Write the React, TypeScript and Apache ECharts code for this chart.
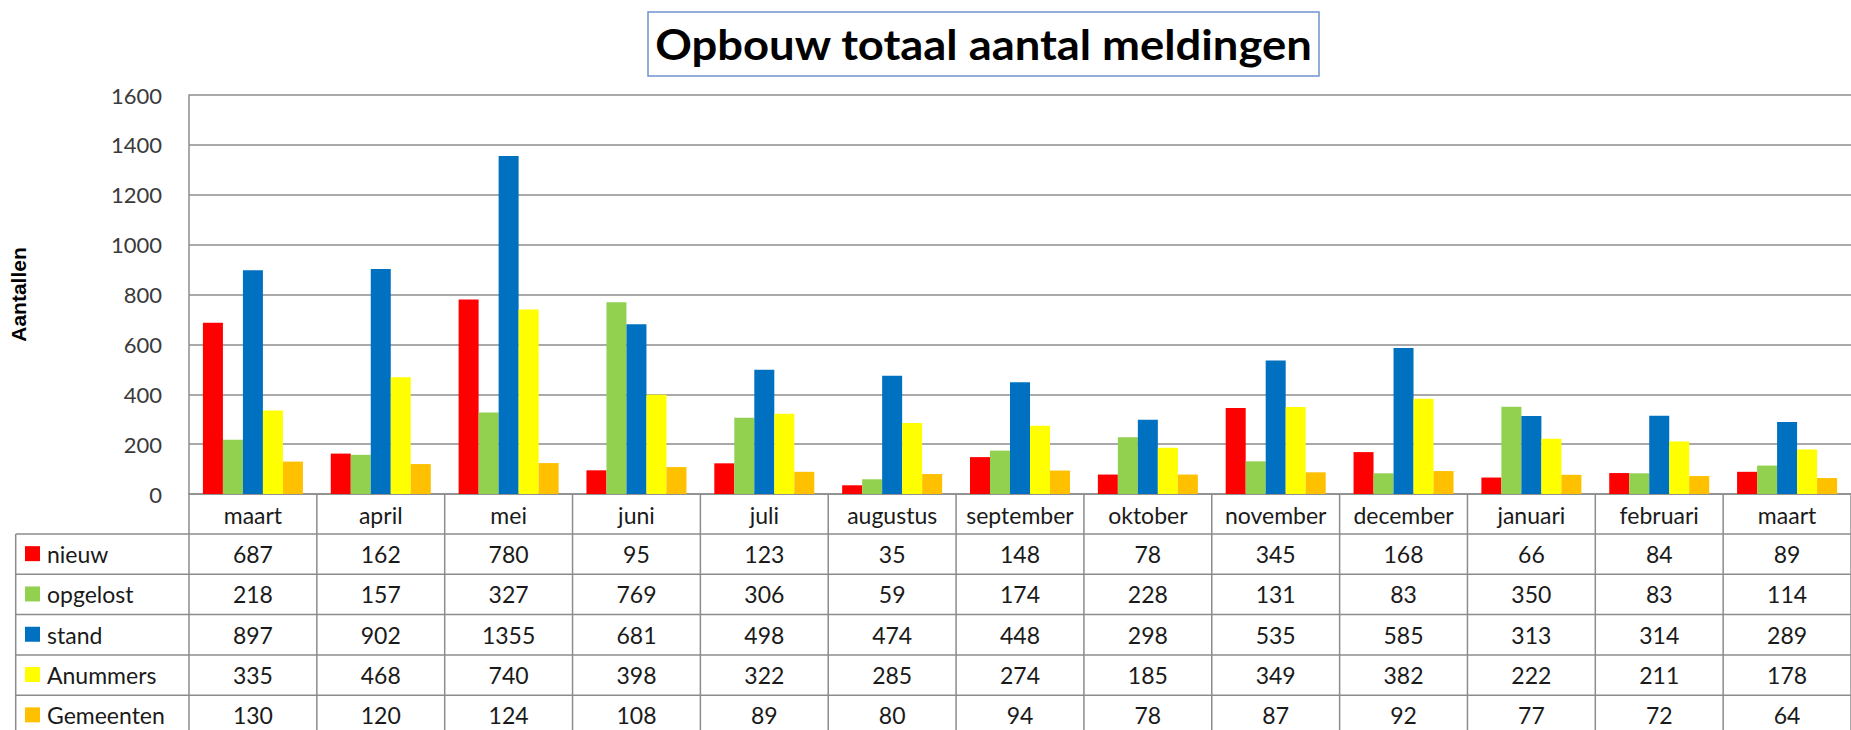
import React, { useEffect, useRef } from "react";
import * as echarts from "echarts";

const months = ["maart", "april", "mei", "juni", "juli", "augustus", "september", "oktober", "november", "december", "januari", "februari", "maart"];
const seriesNames = ["nieuw", "opgelost", "stand", "Anummers", "Gemeenten"];
const nieuw = [687, 162, 780, 95, 123, 35, 148, 78, 345, 168, 66, 84, 89];
const opgelost = [218, 157, 327, 769, 306, 59, 174, 228, 131, 83, 350, 83, 114];
const stand = [897, 902, 1355, 681, 498, 474, 448, 298, 535, 585, 313, 314, 289];
const anummers = [335, 468, 740, 398, 322, 285, 274, 185, 349, 382, 222, 211, 178];
const gemeenten = [130, 120, 124, 108, 89, 80, 94, 78, 87, 92, 77, 72, 64];
const seriesColors = ["#FF0000", "#92D050", "#0070C0", "#FFFF00", "#FFC000"];
const yMin = 0;
const yMax = 1600;
const yInterval = 200;
const titleText = "Opbouw totaal aantal meldingen";
const yAxisTitle = "Aantallen";

const allSeries = [nieuw, opgelost, stand, anummers, gemeenten];

const FONT = "Lato, 'Liberation Sans', sans-serif";
const LINE = "#8c8c8c";

export default function App() {
  const ref = useRef<HTMLDivElement>(null);

  useEffect(() => {
    document.body.style.margin = "0";
    if (!ref.current) return;
    const chart = echarts.init(ref.current, null, { renderer: "svg" });
    const gridLeft = 182;
    const gridTop = 95;
    const gridHeight = 399;
    const gridWidth = 1678;

    chart.setOption({
      animation: false,
      backgroundColor: "#ffffff",
      grid: { left: gridLeft, top: gridTop, height: gridHeight, width: gridWidth, containLabel: false },
      xAxis: {
        type: "category",
        data: months,
        axisLine: { show: true, lineStyle: { color: LINE, width: 1.5 } },
        axisTick: { show: false },
        axisLabel: { color: "#1a1a1a", fontFamily: FONT, fontSize: 23, margin: 9, interval: 0 },
      },
      yAxis: {
        type: "value",
        min: yMin,
        max: yMax,
        interval: yInterval,
        name: yAxisTitle,
        nameLocation: "middle",
        nameRotate: 90,
        nameGap: 160,
        nameTextStyle: { color: "#000", fontFamily: "'Liberation Sans', Arial, sans-serif", fontWeight: "bold", fontSize: 21 },
        axisLine: { show: true, lineStyle: { color: LINE, width: 1.5 } },
        axisTick: { show: false },
        axisLabel: { color: "#3a3a3a", fontFamily: FONT, fontSize: 22, margin: 27, formatter: (v: number) => String(v) },
        splitLine: { show: true, lineStyle: { color: LINE, width: 1.5 } },
      },
      series: allSeries.map((d, i) => ({
        name: seriesNames[i],
        type: "bar",
        data: d,
        barWidth: 20,
        barGap: "0%",
        itemStyle: { color: seriesColors[i] },
      })),
    });

    // Build the data table using the axis' own positions
    const centers = months.map((_, i) => chart.convertToPixel({ xAxisIndex: 0 }, i) as number);
    const colW = centers.length > 1 ? centers[1] - centers[0] : 129;
    const axisY = gridTop + gridHeight;
    const headerBottom = axisY + 40;
    const rowH = 40.3;
    const tableLeft = 15.7;
    const tableRight = centers[centers.length - 1] + colW / 2;
    const tableBottom = headerBottom + rowH * seriesNames.length;

    const elements: any[] = [];
    // title
    elements.push({
      type: "rect",
      shape: { x: 648, y: 12, width: 671, height: 64 },
      style: { fill: "#ffffff", stroke: "#7093cf", lineWidth: 1.5 },
      z: 10,
    });
    elements.push({
      type: "text",
      x: 983.5,
      y: 44,
      scaleX: 1.08,
      style: { text: titleText, fill: "#000", font: `bold 42px ${FONT}`, textAlign: "center", textVerticalAlign: "middle" },
      z: 11,
    });
    // horizontal rows
    for (let r = 0; r <= seriesNames.length; r++) {
      const y = headerBottom + r * rowH;
      elements.push({
        type: "line",
        shape: { x1: tableLeft, y1: y, x2: tableRight, y2: y },
        style: { stroke: LINE, lineWidth: 1.5 },
      });
    }
    // left border of legend column
    elements.push({
      type: "line",
      shape: { x1: tableLeft, y1: headerBottom, x2: tableLeft, y2: tableBottom },
      style: { stroke: LINE, lineWidth: 1.5 },
    });
    // column dividers
    for (let k = 0; k <= months.length; k++) {
      const x = centers[0] - colW / 2 + k * colW;
      elements.push({
        type: "line",
        shape: { x1: x, y1: axisY, x2: x, y2: tableBottom },
        style: { stroke: LINE, lineWidth: 1.5 },
      });
    }
    // legend + values
    seriesNames.forEach((name, r) => {
      const cy = headerBottom + r * rowH + rowH / 2;
      elements.push({
        type: "rect",
        shape: { x: 25, y: cy - 8, width: 15, height: 15 },
        style: { fill: seriesColors[r] },
      });
      elements.push({
        type: "text",
        x: 47,
        y: cy,
        style: { text: name, fill: "#1a1a1a", font: `23px ${FONT}`, textAlign: "left", textVerticalAlign: "middle" },
      });
      allSeries[r].forEach((v, i) => {
        elements.push({
          type: "text",
          x: centers[i],
          y: cy,
          style: { text: String(v), fill: "#1a1a1a", font: `23px ${FONT}`, textAlign: "center", textVerticalAlign: "middle" },
        });
      });
    });

    chart.setOption({ graphic: { elements } });

    return () => chart.dispose();
  }, []);

  return <div ref={ref} style={{ width: 1851, height: 730 }} />;
}
